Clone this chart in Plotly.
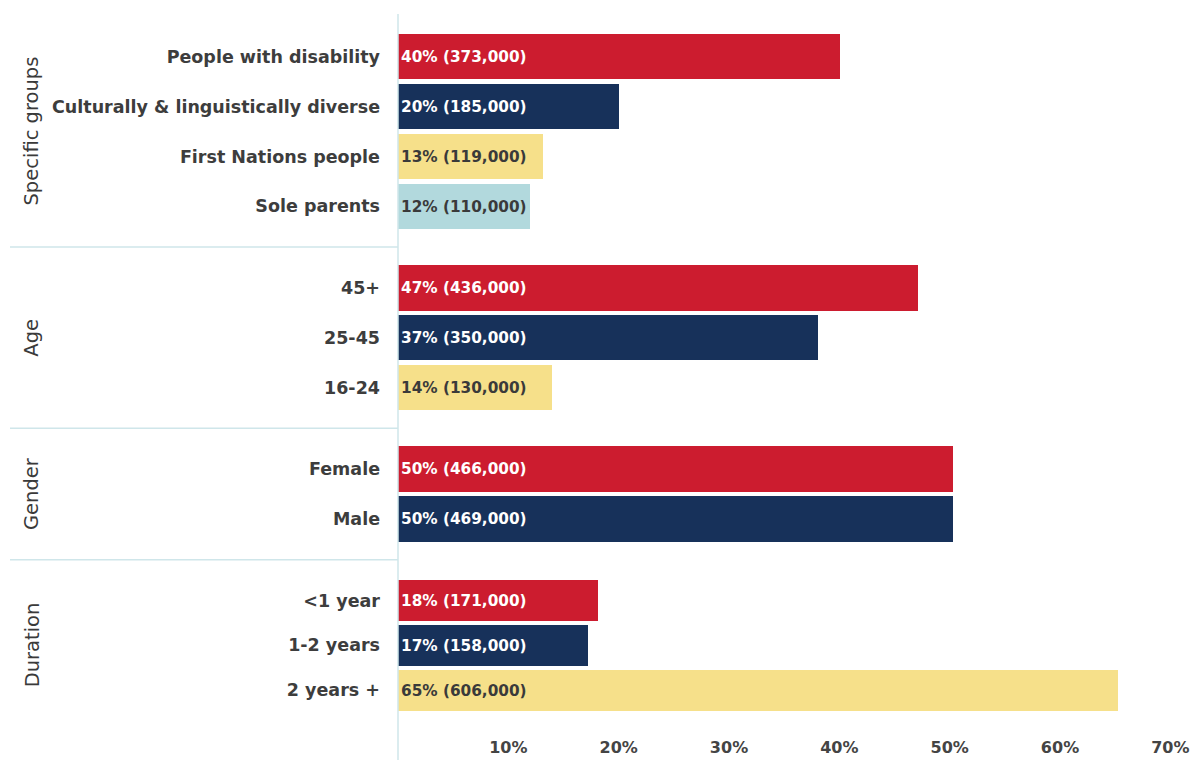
import plotly.graph_objects as go

# ---------------- data ----------------
groups = ["Specific groups", "Age", "Gender", "Duration"]
group_members = [
    ["People with disability", "Culturally & linguistically diverse", "First Nations people", "Sole parents"],
    ["45+", "25-45", "16-24"],
    ["Female", "Male"],
    ["<1 year", "1-2 years", "2 years +"],
]
values = [
    [40.1, 20.0, 13.1, 12.0],
    [47.1, 38.1, 14.0],
    [50.3, 50.3],
    [18.1, 17.2, 65.3],
]
bar_labels = [
    ["40% (373,000)", "20% (185,000)", "13% (119,000)", "12% (110,000)"],
    ["47% (436,000)", "37% (350,000)", "14% (130,000)"],
    ["50% (466,000)", "50% (469,000)"],
    ["18% (171,000)", "17% (158,000)", "65% (606,000)"],
]
x_tickvals = [10, 20, 30, 40, 50, 60, 70]
x_ticktext = ["10%", "20%", "30%", "40%", "50%", "60%", "70%"]

# ---------------- style ----------------
palette = ["#CC1C2F", "#17315A", "#F6E08A", "#B2D9DD"]
text_colors = ["#FFFFFF", "#FFFFFF", "#3A3A3A", "#3A3A3A"]
group_step = [1.0, 1.0, 1.0, 0.9]
group_gap = 1.64
line_col = "#CFE6EA"
FONT = "DejaVu Sans"

# compute positions
ys, xs, cats, cols, tcols, txts, widths = [], [], [], [], [], [], []
group_centers, separators = [], []
pos = 0.0
for gi, members in enumerate(group_members):
    if gi > 0:
        prev_last = pos
        pos = pos + group_gap
        separators.append((prev_last + pos) / 2)
    start = pos
    for mi, m in enumerate(members):
        if mi > 0:
            pos += group_step[gi]
        ys.append(pos)
        xs.append(values[gi][mi])
        cats.append(m)
        cols.append(palette[mi])
        tcols.append(text_colors[mi])
        txts.append(bar_labels[gi][mi])
        widths.append(0.91 * group_step[gi])
    group_centers.append((start + pos) / 2)

y_top, y_bot = -0.86, 13.56
x_max = 71.6
W, H = 1190, 755
ML, MR, MT, MB = 390, 10, 6, 28
PW = W - ML - MR
PH = H - MT - MB


def to_paper_y(v):
    return (y_bot - v) / (y_bot - y_top)


fig = go.Figure(
    go.Bar(
        x=xs,
        y=ys,
        orientation="h",
        width=widths,
        marker=dict(color=cols, line=dict(width=0)),
        text=txts,
        textposition="inside",
        insidetextanchor="start",
        textfont=dict(family=FONT, size=15.3, color=tcols, weight="bold"),
        constraintext="none",
        hoverinfo="skip",
    )
)

shapes = [
    dict(type="line", xref="paper", yref="paper", x0=0, x1=0, y0=-MB / PH, y1=1,
         line=dict(color=line_col, width=1.5)),
]
for s in separators:
    py = to_paper_y(s)
    shapes.append(dict(type="line", xref="paper", yref="paper", x0=-(ML - 2) / PW, x1=0,
                       y0=py, y1=py, line=dict(color=line_col, width=1.5)))

annotations = []
for g, c in zip(groups, group_centers):
    annotations.append(dict(text=g, xref="paper", yref="y", x=(24 - ML) / PW, y=c,
                            textangle=-90, showarrow=False,
                            font=dict(family=FONT, size=19.5, color="#3A3A3A"),
                            xanchor="center", yanchor="middle"))

fig.update_layout(
    width=W, height=H,
    margin=dict(l=ML, r=MR, t=MT, b=MB),
    paper_bgcolor="white", plot_bgcolor="white",
    showlegend=False,
    bargap=0,
    uniformtext=dict(mode="show", minsize=15),
    shapes=shapes,
    annotations=annotations,
    xaxis=dict(range=[0, x_max], tickvals=x_tickvals, ticktext=x_ticktext,
               showgrid=False, zeroline=False, showline=False, ticks="",
               ticklabelstandoff=4,
               tickfont=dict(family=FONT, size=16, color="#444444", weight="bold"),
               fixedrange=True),
    yaxis=dict(range=[y_bot, y_top], tickvals=ys, ticktext=cats,
               showgrid=False, zeroline=False, showline=False, ticks="",
               ticklabelstandoff=17,
               tickfont=dict(family=FONT, size=17.5, color="#3D3D3D", weight="bold"),
               fixedrange=True),
)

fig.write_html("out.html")
